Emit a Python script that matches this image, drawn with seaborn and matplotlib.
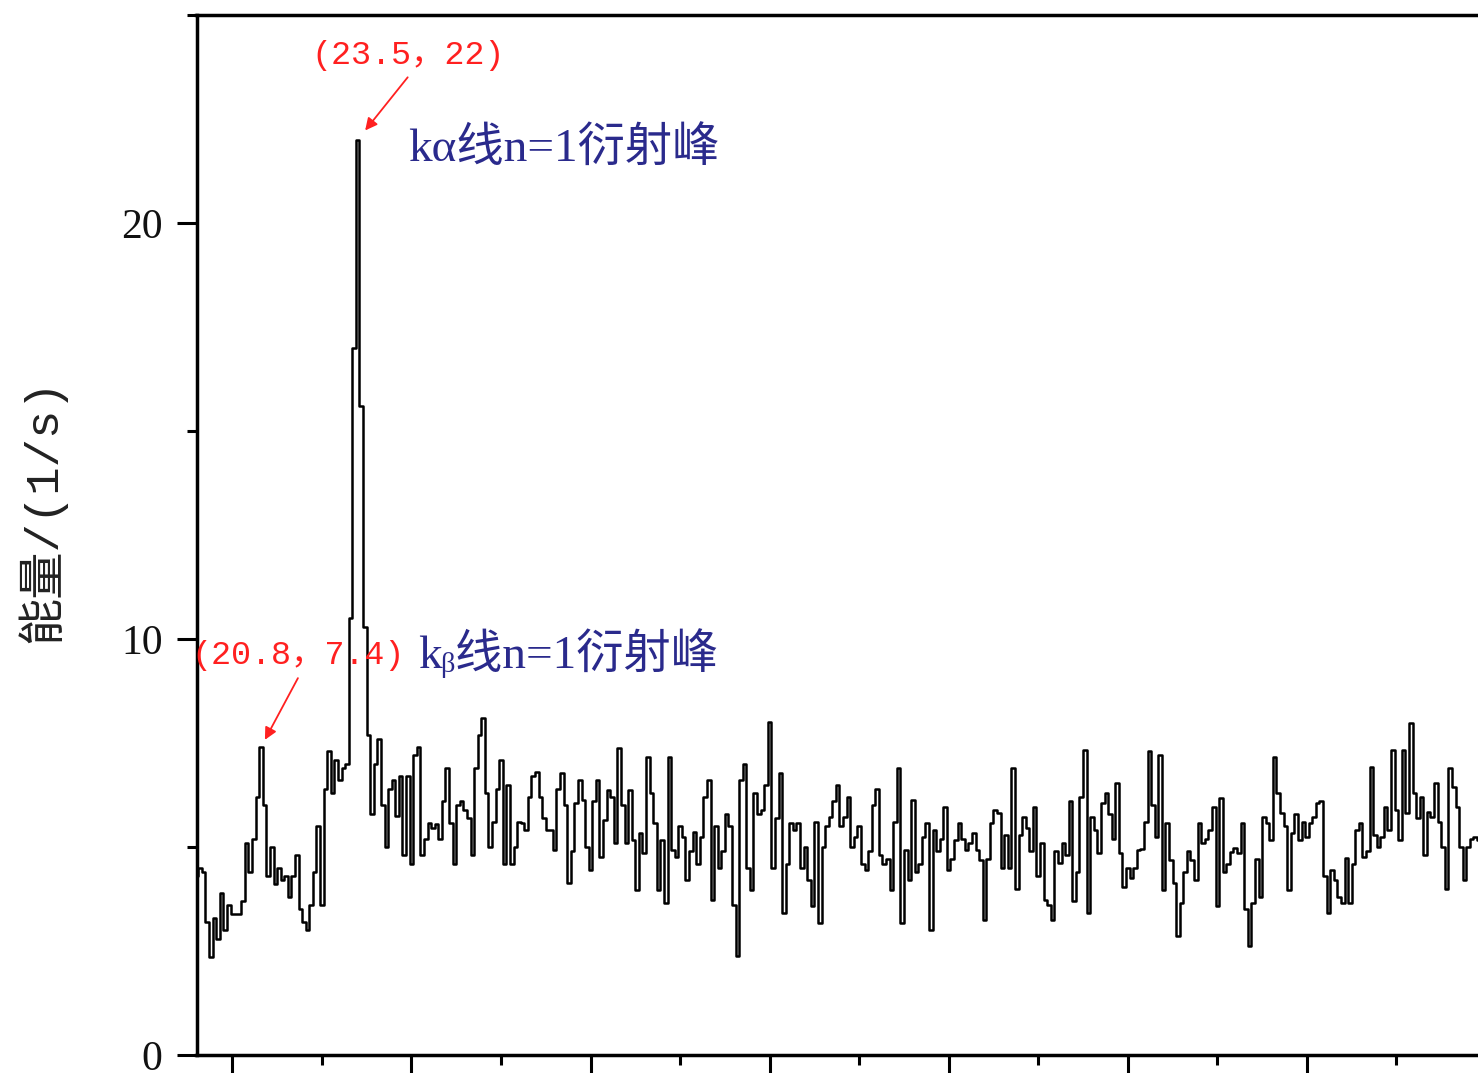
import numpy as np
import pandas as pd
import matplotlib
matplotlib.use("Agg")
import matplotlib.pyplot as plt
import seaborn as sns
from matplotlib.ticker import MultipleLocator

# scan: start angle and step, counts in 5-degree pieces
ANGLE_START = 19.0
ANGLE_STEP = 0.1

seg_19 = [4.3, 4.5, 4.4, 3.2, 2.35, 3.3, 2.8, 3.9, 3.0, 3.6,
          3.4, 3.4, 3.4, 3.7, 5.1, 4.4, 5.2, 6.2, 7.4, 6.0,
          4.3, 5.0, 4.1, 4.5, 4.2, 4.3, 3.8, 4.3, 4.8, 3.5,
          3.2, 3.0, 3.6, 4.4, 5.5, 3.6, 6.4, 7.3, 6.3, 7.1,
          6.6, 6.9, 7.0, 10.5, 17.0]
seg_23 = [22.0, 15.6, 10.3, 7.7, 5.8, 7.0, 7.6, 6.0, 5.0, 6.4,
          6.6, 5.75, 6.7, 4.8, 6.7, 4.6, 7.2, 7.4, 4.8, 5.2,
          5.57, 5.45, 5.55, 5.2, 6.1, 6.9, 5.57, 4.6, 6.0, 6.1,
          5.9, 5.7, 4.8, 6.9, 7.7, 8.1, 6.3, 5.0, 5.6, 6.4,
          7.1, 4.6, 6.5, 4.6, 5.0, 5.6]
seg_28 = [5.57, 5.4, 6.2, 6.7, 6.8, 6.2, 5.7, 5.4, 5.4, 4.93,
          6.4, 6.77, 6.0, 4.13, 4.9, 6.05, 6.6, 6.13, 5.0, 4.45,
          6.1, 6.6, 4.77, 5.65, 6.37, 6.2, 5.1, 7.37, 6.0, 5.1,
          6.37, 5.17, 3.97, 5.33, 4.85, 7.17, 6.3, 5.57, 3.97, 5.17,
          3.65, 7.17, 4.93, 4.77]
seg_32 = [5.5, 5.25, 4.2, 4.9, 5.37, 4.6, 5.25, 6.2, 6.6, 3.73,
          5.5, 4.5, 4.9, 5.8, 5.5, 3.6, 2.37, 6.6, 7.0, 4.5,
          3.97, 6.3, 5.8, 5.9, 6.5, 8.0, 4.5, 5.7, 6.77, 3.41,
          4.6, 5.57, 5.4, 5.57, 4.5, 5.0, 4.2, 3.57, 5.6, 3.17,
          5.0, 5.5, 5.73, 6.1, 6.5]
seg_37 = [5.5, 5.73, 6.2, 5.01, 5.25, 5.5, 4.6, 4.45, 4.9, 6.0,
          6.4, 4.8, 4.6, 4.7, 3.97, 5.6, 6.9, 3.17, 4.93, 4.21,
          6.13, 4.4, 4.6, 5.25, 5.57, 3.0, 5.41, 4.9, 5.2, 5.97,
          4.45, 4.7, 5.17, 5.57, 5.2, 4.93, 5.1, 5.33, 4.93, 4.69,
          3.25, 4.7, 5.57, 5.9, 5.81]
seg_41 = [4.5, 5.3, 4.5, 6.9, 4.0, 5.3, 5.73, 5.45, 4.9, 5.97,
          4.3, 5.1, 3.73, 3.6, 3.25, 4.9, 4.61, 5.09, 4.8, 6.1,
          3.7, 4.4, 6.2, 7.33, 3.41, 5.73, 5.41, 4.85, 6.05, 6.3,
          5.8, 5.2, 6.53, 4.85, 4.05, 4.5, 4.25, 4.5, 4.93, 4.95,
          5.6, 7.3, 6.0, 5.25, 7.2]
seg_46 = [3.97, 5.57, 4.69, 4.13, 2.85, 3.65, 4.4, 4.9, 4.69, 4.21,
          5.57, 5.09, 5.2, 5.41, 5.97, 3.57, 6.17, 4.4, 4.6, 4.88,
          4.97, 4.85, 5.57, 3.5, 2.61, 3.65, 4.7, 3.81, 5.73, 5.57,
          5.17, 7.17, 6.3, 5.81, 5.5, 3.97, 5.33, 5.8, 5.17, 5.6,
          5.25, 5.57, 5.73, 6.05]
seg_50 = [6.1, 4.3, 3.41, 4.45, 4.21, 3.81, 3.65, 4.73, 3.65, 4.6,
          5.41, 5.57, 4.77, 4.9, 6.93, 5.3, 5.01, 5.25, 5.97, 5.4,
          7.33, 5.9, 5.17, 7.33, 5.81, 7.97, 6.29, 5.7, 6.21, 4.8,
          5.85, 5.73, 6.53, 5.6, 5.0, 4.0, 6.9, 6.45, 5.97, 5.0,
          4.2, 5.0, 5.2, 5.25, 5.17]

counts = seg_19 + seg_23 + seg_28 + seg_32 + seg_37 + seg_41 + seg_46 + seg_50
angle = np.round(ANGLE_START + ANGLE_STEP * np.arange(len(counts)), 1)

# marked peaks
ka_peak = (23.5, 22)
kb_peak = (20.8, 7.4)

sns.set_style("ticks")
plt.rcParams["font.family"] = ["Liberation Serif", "Noto Sans CJK SC", "DejaVu Sans"]

W, H = 1478, 1073
fig = plt.figure(figsize=(W / 100, H / 100), dpi=100)
ax = fig.add_axes([196.5 / W, 18 / H, 1289.5 / W, 1040 / H])

df = pd.DataFrame({"angle": angle, "rate": counts})
sns.lineplot(data=df, x="angle", y="rate", ax=ax, color="black", lw=1.8,
             drawstyle="steps-mid", estimator=None)

ax.set_xlim(19, 55)
ax.set_ylim(0, 25)
ax.set_xlabel("")
ax.set_ylabel("")

ax.xaxis.set_major_locator(MultipleLocator(5))
ax.xaxis.set_minor_locator(MultipleLocator(2.5))
ax.yaxis.set_major_locator(MultipleLocator(10))
ax.yaxis.set_minor_locator(MultipleLocator(5))
ax.tick_params(which="major", direction="out", length=14.4, width=2.2, color="black")
ax.tick_params(which="minor", direction="out", length=7.2, width=2.2, color="black")
ax.tick_params(axis="x", which="both", labelbottom=False)
ax.tick_params(axis="y", labelsize=30, pad=10, labelcolor="#111111")

for side in ["left", "bottom", "top"]:
    ax.spines[side].set_linewidth(2.5)
    ax.spines[side].set_color("black")
ax.spines["right"].set_visible(False)

fig.text(41 / W, 1 - 511 / H, "能量/(1/s)", rotation=90, ha="center", va="center",
         fontsize=34, color="#222222", family=["Liberation Mono", "Noto Sans CJK SC"])

red = "#ff2020"
blue = "#2a2a8c"
mono = ["Liberation Mono", "Noto Sans CJK SC"]
serif = ["Liberation Serif", "DejaVu Sans", "Noto Sans CJK SC"]

# Ka peak
ax.annotate("", xy=ka_peak, xytext=(36, 45), textcoords="offset points",
            arrowprops=dict(arrowstyle="-|>", color=red, lw=1.3, mutation_scale=18,
                            shrinkA=0, shrinkB=8.6))
ax.annotate(f"({ka_peak[0]}，{ka_peak[1]})", xy=ka_peak, xytext=(36, 61),
            textcoords="offset points", ha="center", va="center",
            fontsize=24, color=red, family=mono)
ax.annotate("kα线n=1衍射峰", xy=ka_peak, xytext=(36, -7), textcoords="offset points",
            ha="left", va="center", fontsize=34, color=blue, family=serif)

# Kb peak
ax.annotate("", xy=kb_peak, xytext=(26.6, 49.7), textcoords="offset points",
            arrowprops=dict(arrowstyle="-|>", color=red, lw=1.3, mutation_scale=18,
                            shrinkA=0, shrinkB=6))
ax.annotate(f"({kb_peak[0]}，{kb_peak[1]})", xy=kb_peak, xytext=(26.6, 66),
            textcoords="offset points", ha="center", va="center",
            fontsize=24, color=red, family=mono)
ax.annotate("kᵦ线n=1衍射峰", xy=kb_peak, xytext=(113, 67.7), textcoords="offset points",
            ha="left", va="center", fontsize=34, color=blue, family=serif)

plt.savefig("out.png", dpi=100, facecolor="white")
plt.close()
